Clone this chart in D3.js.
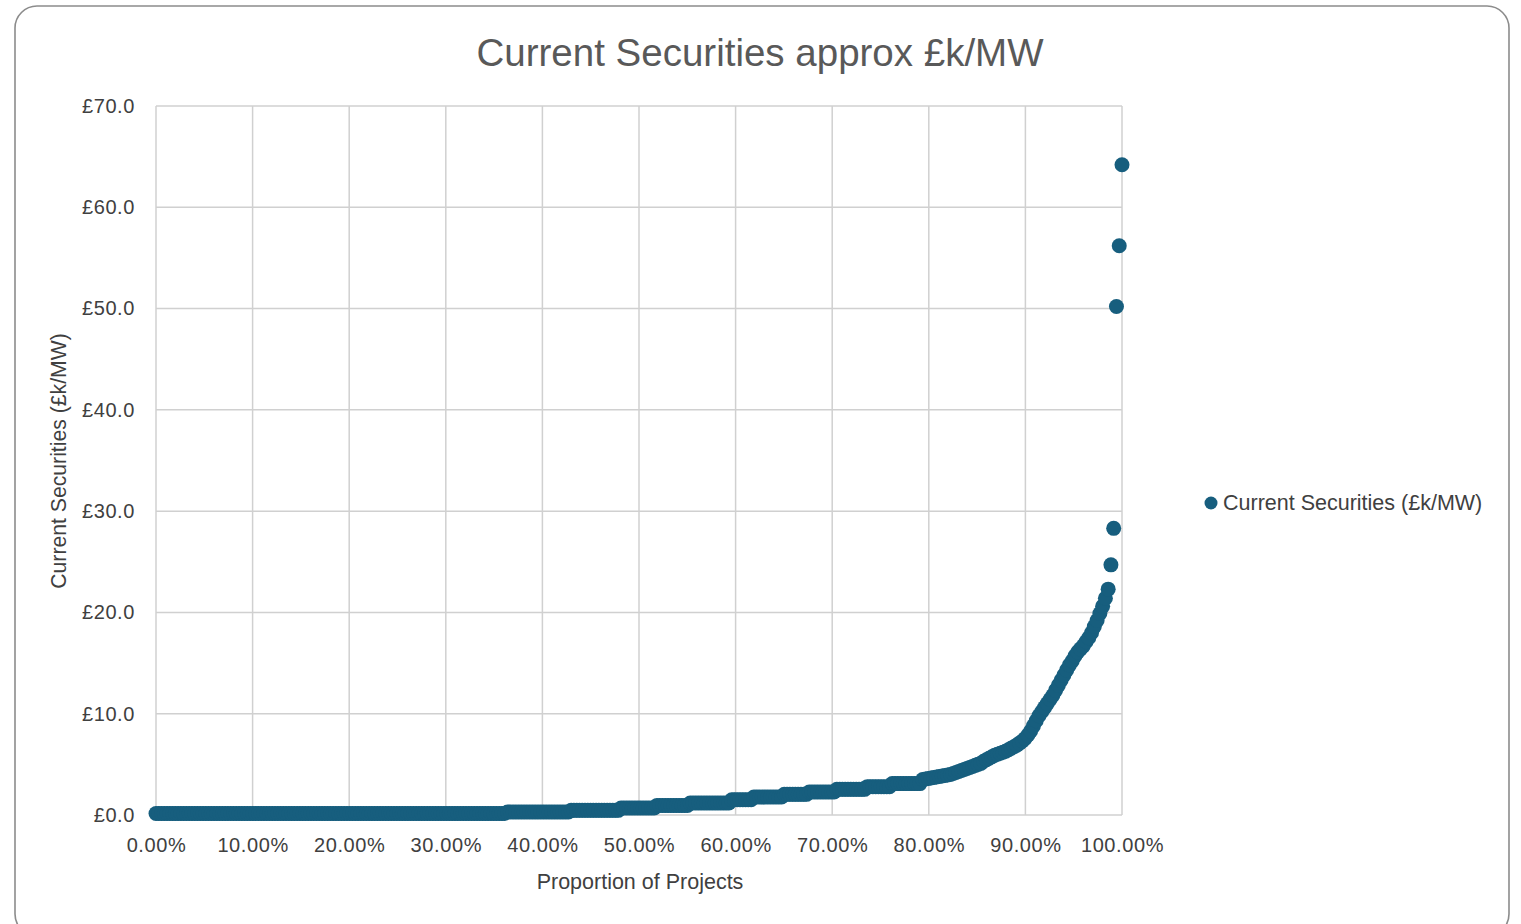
<!DOCTYPE html>
<html>
<head>
<meta charset="utf-8">
<script src="https://cdn.jsdelivr.net/npm/d3@7"></script>
<style>
  html, body { margin: 0; padding: 0; background: #ffffff; }
  svg { display: block; }
  text { font-family: "Liberation Sans", Arial, sans-serif; }
</style>
</head>
<body>
<svg id="chart" width="1521" height="924"></svg>
<script>
// ---- Data ----
const chartTitle = "Current Securities approx £k/MW";
const seriesName = "Current Securities (£k/MW)";
const xAxisTitle = "Proportion of Projects";
const yAxisTitle = "Current Securities (£k/MW)";

const xTickValues = [0, 0.1, 0.2, 0.3, 0.4, 0.5, 0.6, 0.7, 0.8, 0.9, 1.0];
const yTickValues = [0, 10, 20, 30, 40, 50, 60, 70];

// Sorted security values (£k/MW), one per project, lowest to highest
const securities = [
  0.15,0.15,0.15,0.15,0.15,0.15,0.15,0.15,0.15,0.15,0.15,0.15,0.15,0.15,0.15,0.15,
  0.15,0.15,0.15,0.15,0.15,0.15,0.15,0.15,0.15,0.15,0.15,0.15,0.15,0.15,0.15,0.15,
  0.15,0.15,0.15,0.15,0.15,0.15,0.15,0.15,0.15,0.15,0.15,0.15,0.15,0.15,0.15,0.15,
  0.15,0.15,0.15,0.15,0.15,0.15,0.15,0.15,0.15,0.15,0.15,0.15,0.15,0.15,0.15,0.15,
  0.15,0.15,0.15,0.15,0.15,0.15,0.15,0.15,0.15,0.15,0.15,0.15,0.15,0.15,0.15,0.15,
  0.15,0.15,0.15,0.15,0.15,0.15,0.15,0.15,0.15,0.15,0.15,0.15,0.15,0.15,0.15,0.15,
  0.15,0.15,0.15,0.15,0.15,0.15,0.15,0.15,0.15,0.15,0.15,0.15,0.15,0.15,0.15,0.15,
  0.15,0.15,0.15,0.15,0.15,0.15,0.15,0.15,0.15,0.15,0.15,0.15,0.15,0.15,0.15,
  0.3,0.3,0.3,0.3,0.3,0.3,0.3,0.3,0.3,0.3,0.3,0.3,0.3,0.3,0.3,0.3,0.3,0.3,0.3,0.3,0.3,0.3,0.3,
  0.46,0.46,0.46,0.46,0.46,0.46,0.46,0.46,0.46,0.46,0.46,0.46,0.46,0.46,0.46,0.46,0.46,0.46,
  0.69,0.69,0.69,0.69,0.69,0.69,0.69,0.69,0.69,0.69,0.69,0.69,0.69,
  0.95,0.95,0.95,0.95,0.95,0.95,0.95,0.95,0.95,0.95,0.95,0.95,
  1.18,1.18,1.18,1.18,1.18,1.18,1.18,1.18,1.18,1.18,1.18,1.18,1.18,1.18,1.18,
  1.5,1.5,1.5,1.5,1.5,1.5,1.5,1.5,
  1.78,1.78,1.78,1.78,1.78,1.78,1.78,1.78,1.78,1.78,1.78,
  2.04,2.04,2.04,2.04,2.04,2.04,2.04,2.04,2.04,
  2.27,2.27,2.27,2.27,2.27,2.27,2.27,2.27,2.27,2.27,
  2.53,2.53,2.53,2.53,2.53,2.53,2.53,2.53,2.53,2.53,2.53,
  2.8,2.8,2.8,2.8,2.8,2.8,2.8,2.8,2.8,
  3.1,3.1,3.1,3.1,3.1,3.1,3.1,3.1,3.1,3.1,3.1,
  3.5,3.55,3.6,3.65,3.7,3.75,3.8,3.85,3.9,3.95,
  4.0,4.1,4.2,4.3,4.4,4.5,4.6,4.7,4.8,4.9,
  5.0,5.1,5.3,5.45,5.6,5.75,5.9,6.0,6.1,6.2,
  6.3,6.45,6.6,6.75,6.9,7.1,7.3,7.55,7.9,8.3,
  8.8,9.3,9.8,10.2,10.6,11.0,11.4,11.8,12.3,12.8,
  13.3,13.8,14.3,14.8,15.2,15.7,16.1,16.4,16.7,17.1,
  17.5,18.0,18.6,19.2,19.9,20.6,21.4,22.3,24.7,28.3,
  50.2,56.2,64.2
];

// ---- Layout ----
const svg = d3.select("#chart");
const plot = { left: 156, right: 1122, top: 106, bottom: 815 };
const dotColor = "#175e7e";
const gridColor = "#d0d0d0";
const textColor = "#404040";
const fontFam = '"Liberation Sans", Arial, sans-serif';

// chart area frame
svg.append("rect")
  .attr("x", 15).attr("y", 6)
  .attr("width", 1494).attr("height", 930)
  .attr("rx", 22).attr("ry", 22)
  .attr("fill", "#ffffff")
  .attr("stroke", "#8c8c8c")
  .attr("stroke-width", 1.6);

const n = securities.length;
const points = securities.map((v, i) => ({ p: i / (n - 1), v: v }));

const x = d3.scaleLinear().domain([0, 1]).range([plot.left, plot.right]);
const y = d3.scaleLinear().domain([0, 70]).range([plot.bottom, plot.top]);

// gridlines
const g = svg.append("g");
g.selectAll("line.vgrid").data(xTickValues).enter().append("line")
  .attr("class", "vgrid")
  .attr("x1", d => x(d)).attr("x2", d => x(d))
  .attr("y1", plot.top).attr("y2", plot.bottom)
  .attr("stroke", gridColor).attr("stroke-width", 1.5);
g.selectAll("line.hgrid").data(yTickValues).enter().append("line")
  .attr("class", "hgrid")
  .attr("x1", plot.left).attr("x2", plot.right)
  .attr("y1", d => y(d)).attr("y2", d => y(d))
  .attr("stroke", gridColor).attr("stroke-width", 1.5);

// axes (labels only; gridlines form the frame)
const yAxis = d3.axisLeft(y).tickValues(yTickValues)
  .tickFormat(d => "£" + d.toFixed(1)).tickSize(0).tickPadding(21);
const yg = svg.append("g").attr("transform", `translate(${plot.left},0)`).call(yAxis);
yg.select(".domain").remove();
yg.selectAll("text").attr("fill", textColor).attr("font-size", 20)
  .attr("letter-spacing", 0.6)
  .style("font-family", fontFam);

const xAxis = d3.axisBottom(x).tickValues(xTickValues)
  .tickFormat(d => (d * 100).toFixed(2) + "%").tickSize(0).tickPadding(23);
const xg = svg.append("g").attr("transform", `translate(0,${plot.bottom})`).call(xAxis);
xg.select(".domain").remove();
xg.selectAll("text").attr("fill", textColor).attr("font-size", 20)
  .attr("letter-spacing", 0.6)
  .style("font-family", fontFam);

// dots
svg.append("g").selectAll("circle").data(points).enter().append("circle")
  .attr("cx", d => x(d.p))
  .attr("cy", d => y(d.v))
  .attr("r", 7.5)
  .attr("fill", dotColor);

// title
svg.append("text")
  .attr("x", 760).attr("y", 66)
  .attr("text-anchor", "middle")
  .attr("font-size", 38.5)
  .attr("fill", "#595959")
  .text(chartTitle);

// axis titles
svg.append("text")
  .attr("x", 640).attr("y", 889)
  .attr("text-anchor", "middle")
  .attr("font-size", 21.5)
  .attr("fill", textColor)
  .text(xAxisTitle);

svg.append("text")
  .attr("transform", `translate(66,461) rotate(-90)`)
  .attr("text-anchor", "middle")
  .attr("font-size", 21.2)
  .attr("fill", textColor)
  .text(yAxisTitle);

// legend
svg.append("circle")
  .attr("cx", 1211).attr("cy", 503).attr("r", 6.5)
  .attr("fill", dotColor);
svg.append("text")
  .attr("x", 1223).attr("y", 510)
  .attr("font-size", 21.5)
  .attr("fill", textColor)
  .text(seriesName);
</script>
</body>
</html>
